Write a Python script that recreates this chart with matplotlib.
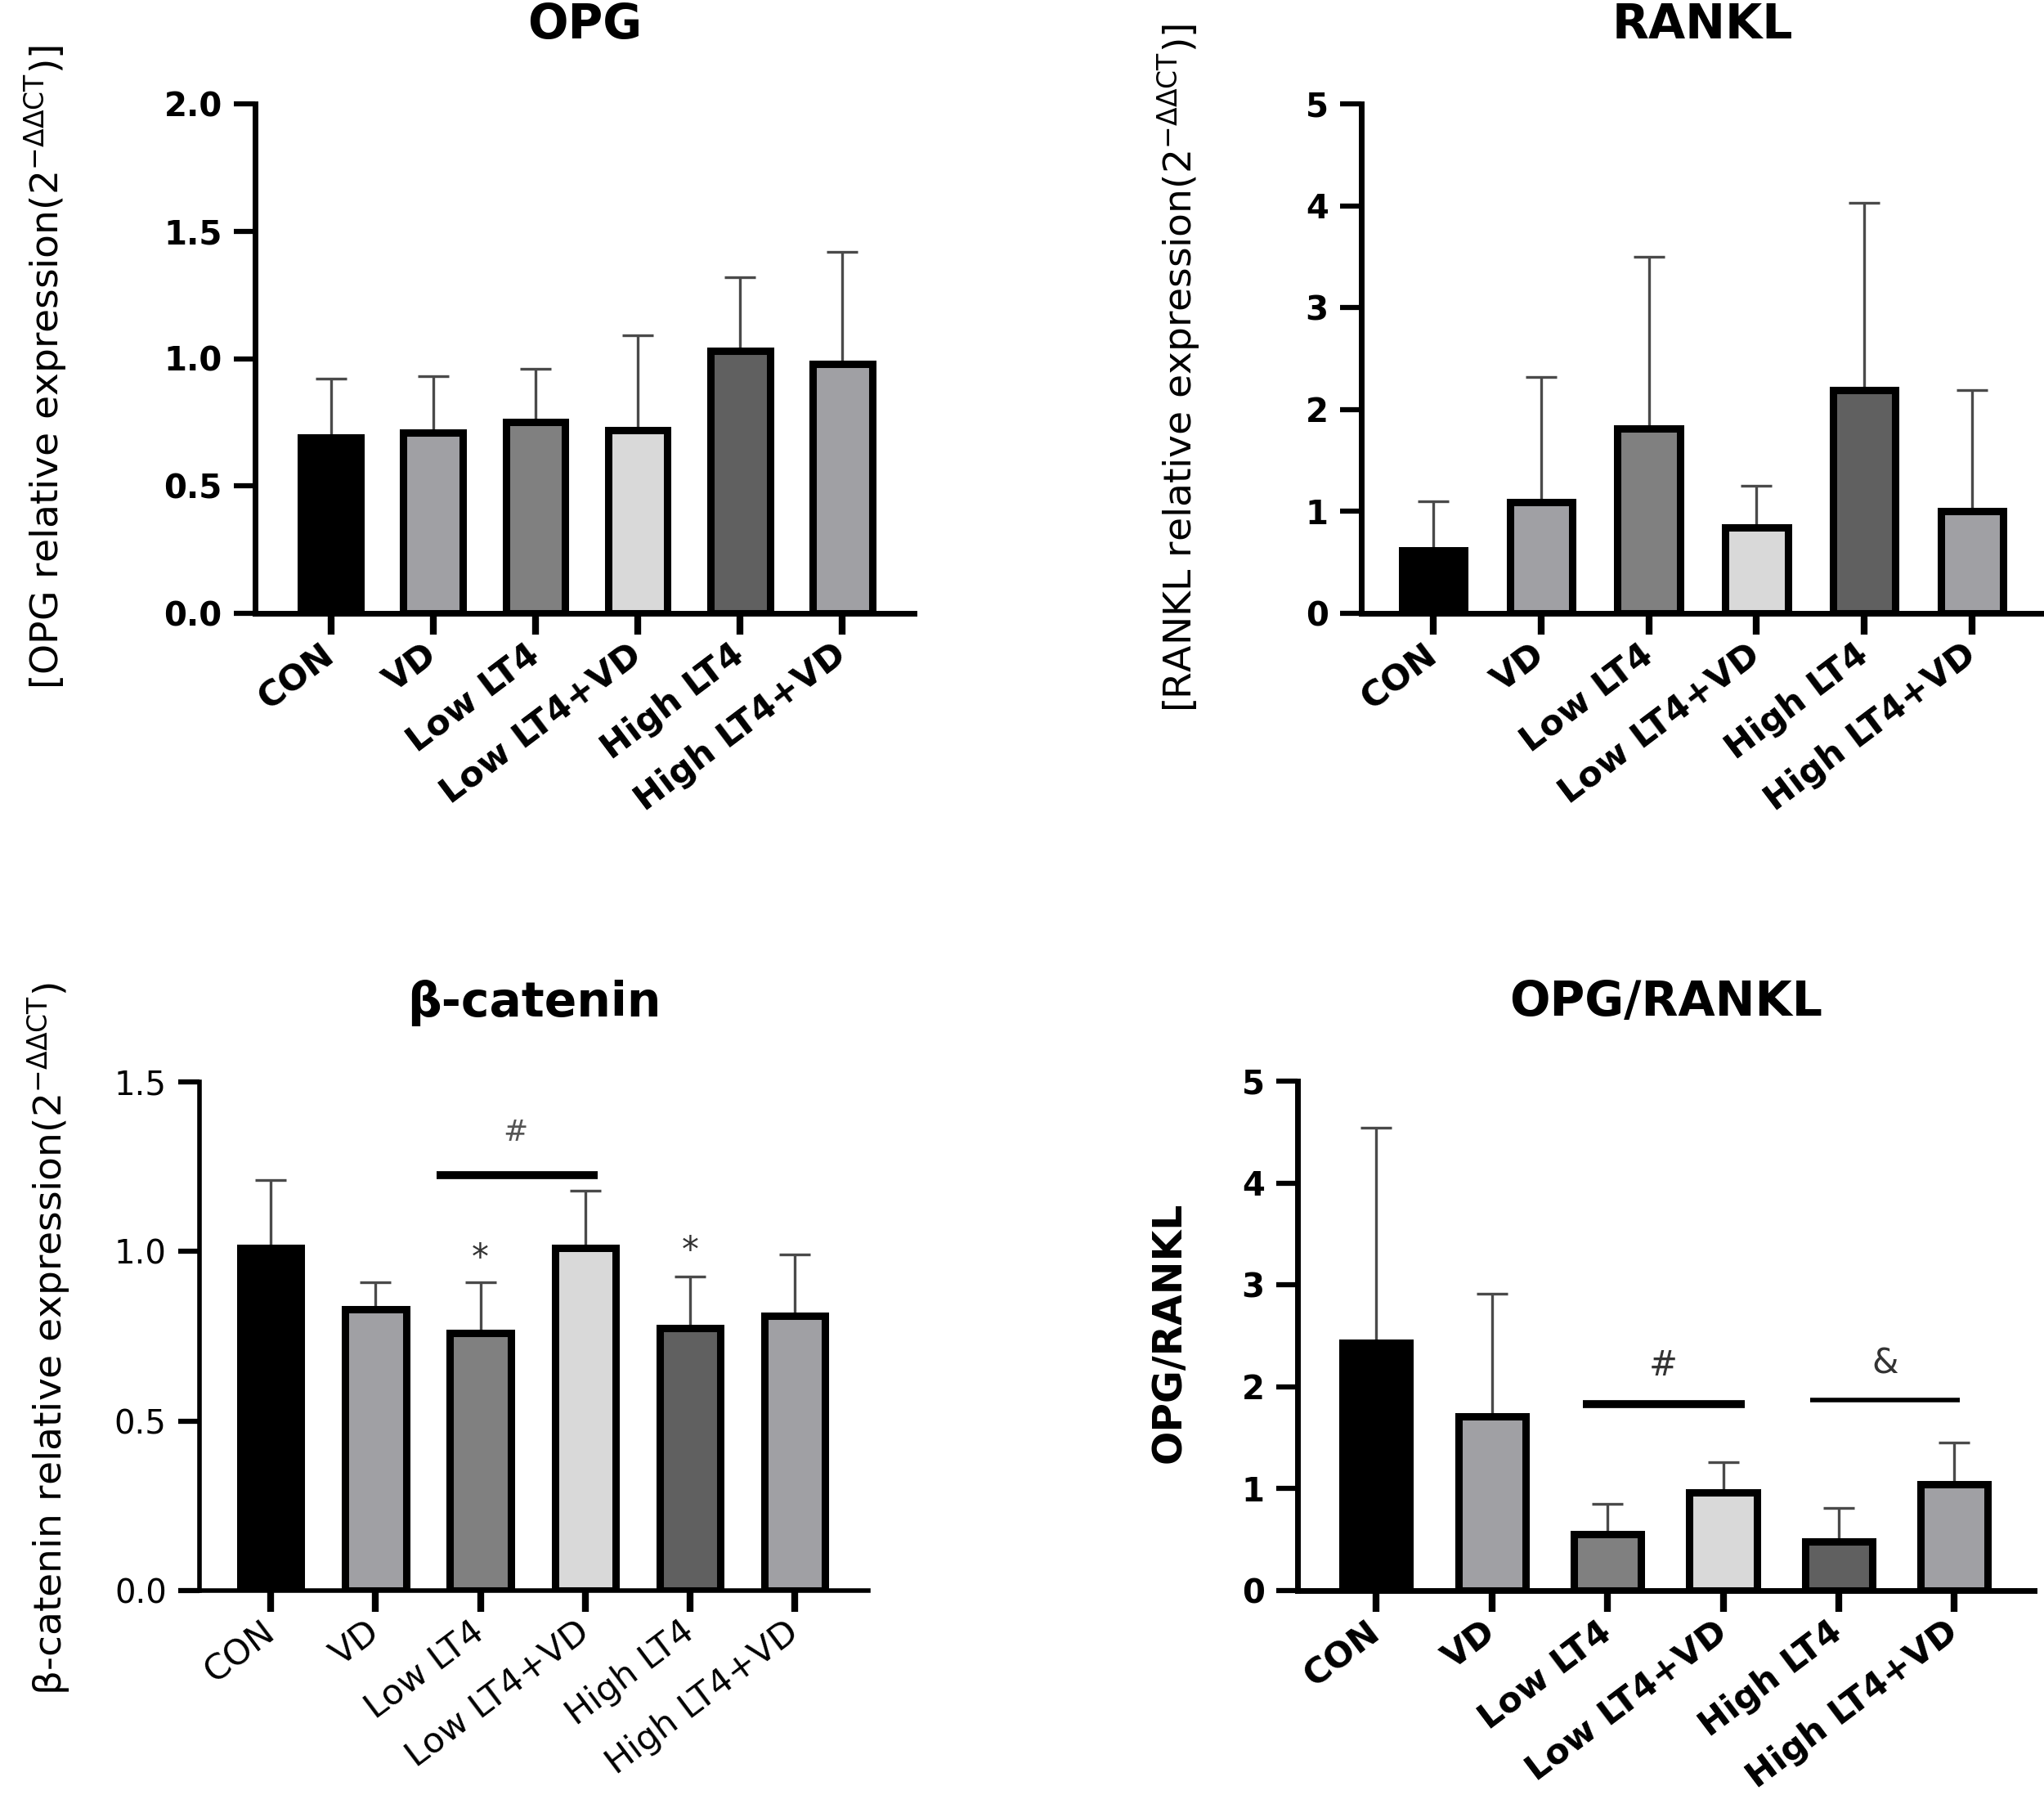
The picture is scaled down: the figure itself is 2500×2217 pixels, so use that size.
import matplotlib.pyplot as plt
import numpy as np

plt.rcParams['font.family'] = ['DejaVu Sans']
plt.rcParams['mathtext.fontset'] = 'dejavusans'

# groups shared by all four panels
groups = ['CON', 'VD', 'Low LT4', 'Low LT4+VD', 'High LT4', 'High LT4+VD']
bar_colors = ['#000000', '#a0a0a4', '#808080', '#d9d9d9', '#606060', '#a0a0a4']

# OPG
opg_mean = [0.69, 0.71, 0.75, 0.72, 1.03, 0.98]
opg_err = [0.23, 0.22, 0.21, 0.37, 0.29, 0.44]

# RANKL
rankl_mean = [0.62, 1.09, 1.81, 0.84, 2.19, 1.00]
rankl_err = [0.48, 1.23, 1.69, 0.41, 1.84, 1.19]

# beta-catenin
bcat_mean = [1.01, 0.83, 0.76, 1.01, 0.775, 0.81]
bcat_err = [0.20, 0.08, 0.15, 0.17, 0.15, 0.18]

# OPG/RANKL ratio
ratio_mean = [2.43, 1.71, 0.55, 0.96, 0.48, 1.04]
ratio_err = [2.11, 1.20, 0.30, 0.30, 0.33, 0.41]

fig = plt.figure(figsize=(25, 22.17), dpi=100)
W, H = 2500, 2217


def px_axes(left, right, top, bottom):
    # pixel box -> figure fraction axes
    return fig.add_axes([left / W, 1 - bottom / H, (right - left) / W, (bottom - top) / H])


def draw_panel(ax, means, errs, xlim, yticks, fmt, title, weight='bold', spine_w=5):
    x = np.arange(len(groups))
    ax.errorbar(x, means, yerr=[np.zeros(len(x)), errs], fmt='none', ecolor='#4a4a4a',
                elinewidth=2.4, capsize=14, capthick=2.4, zorder=1)
    ax.bar(x, means, width=0.58, color=bar_colors, edgecolor='black', linewidth=6.5, zorder=2)
    ax.set_xlim(*xlim)
    ax.set_ylim(yticks[0], yticks[-1])
    ax.set_yticks(yticks)
    ax.set_yticklabels([fmt.format(v) for v in yticks], fontsize=29, fontweight=weight)
    ax.set_xticks(x)
    ax.set_xticklabels(groups, rotation=37, ha='right', va='center', rotation_mode='anchor',
                       fontsize=31, fontweight=weight)
    ax.tick_params(axis='y', length=19, width=4.5, pad=10)
    ax.tick_params(axis='x', length=19, width=6, pad=14)
    for s in ['top', 'right']:
        ax.spines[s].set_visible(False)
    for s in ['left', 'bottom']:
        ax.spines[s].set_linewidth(spine_w)
    ax.text(0.5, 1.155, title, transform=ax.transAxes, ha='center', va='center',
            fontsize=42, fontweight='bold')


ax1 = px_axes(312, 1118, 127, 750)
draw_panel(ax1, opg_mean, opg_err, (-0.74, 5.7), [0, 0.5, 1.0, 1.5, 2.0], '{:.1f}', 'OPG')

ax2 = px_axes(1665, 2500, 127, 750)
draw_panel(ax2, rankl_mean, rankl_err, (-0.67, 5.67), [0, 1, 2, 3, 4, 5], '{:d}', 'RANKL')

ax3 = px_axes(244, 1062, 1323, 1945)
draw_panel(ax3, bcat_mean, bcat_err, (-0.68, 5.7), [0, 0.5, 1.0, 1.5], '{:.1f}', 'β-catenin',
           weight='normal', spine_w=4)

ax4 = px_axes(1587, 2488, 1322, 1945)
draw_panel(ax4, ratio_mean, ratio_err, (-0.68, 5.69), [0, 1, 2, 3, 4, 5], '{:d}', 'OPG/RANKL')

# significance marks
ax3.plot([1.58, 3.12], [1.225, 1.225], color='black', lw=7, solid_capstyle='butt')
ax3.text(2.33, 1.35, '#', ha='center', va='center', fontsize=26, color='#555555')
ax3.text(2, 0.98, '*', ha='center', va='center', fontsize=30, color='#333333')
ax3.text(4, 1.00, '*', ha='center', va='center', fontsize=30, color='#333333')

ax4.plot([1.79, 3.19], [1.83, 1.83], color='black', lw=7, solid_capstyle='butt')
ax4.text(2.48, 2.21, '#', ha='center', va='center', fontsize=30, color='#333333')
ax4.plot([3.75, 5.05], [1.87, 1.87], color='black', lw=4, solid_capstyle='butt')
ax4.text(4.4, 2.23, '&', ha='center', va='center', fontsize=30, color='#333333')

# y labels
sup = r'(2$^{-\Delta\Delta\mathrm{CT}}$)'
fig.text(56 / W, 1 - 843 / H, '[OPG relative expression' + sup + ']', rotation=90,
         ha='center', va='bottom', fontsize=34)
fig.text(1442 / W, 1 - 871 / H, '[RANKL relative expression' + sup + ']', rotation=90,
         ha='center', va='bottom', fontsize=34)
fig.text(60 / W, 1 - 2073 / H, 'β-catenin relative expression' + sup, rotation=90,
         ha='center', va='bottom', fontsize=34)
fig.text(1430 / W, 1 - 1629 / H, 'OPG/RANKL', rotation=90, ha='center', va='center',
         fontsize=35, fontweight='bold')

plt.savefig('out.png', dpi=100)
